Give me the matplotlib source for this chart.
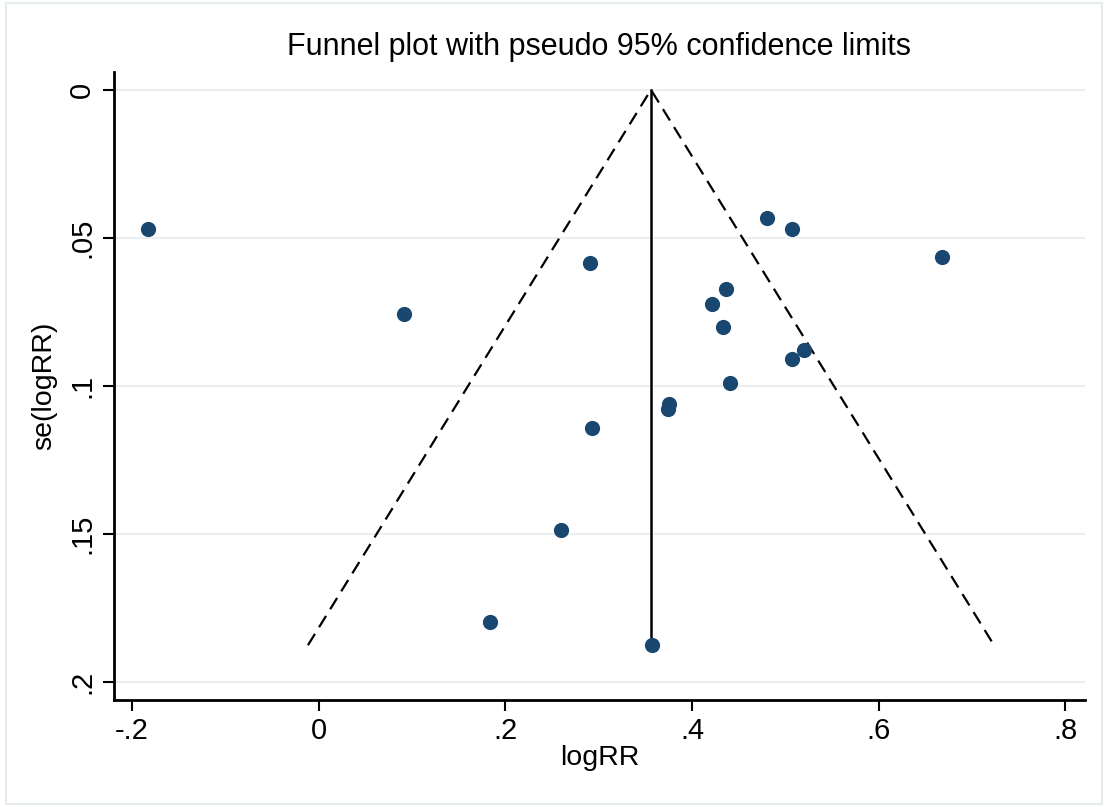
import numpy as np
import matplotlib
matplotlib.use("Agg")
import matplotlib.pyplot as plt
from matplotlib.patches import Rectangle

# study estimates
logrr = [-0.183, 0.091, 0.291, 0.293, 0.260, 0.183, 0.357, 0.375, 0.374,
         0.421, 0.436, 0.433, 0.441, 0.480, 0.507, 0.507, 0.520, 0.668]
se = [0.0469, 0.0757, 0.0586, 0.1143, 0.1485, 0.1798, 0.1875, 0.1062, 0.1079,
      0.0722, 0.0673, 0.0800, 0.0990, 0.0432, 0.0470, 0.0909, 0.0880, 0.0565]
pooled = 0.356

xticks = [-0.2, 0, 0.2, 0.4, 0.6, 0.8]
xtick_labels = ["-.2", "0", ".2", ".4", ".6", ".8"]
yticks = [0, 0.05, 0.1, 0.15, 0.2]
ytick_labels = ["0", ".05", ".1", ".15", ".2"]

plt.rcParams['font.family'] = ['Liberation Sans', 'DejaVu Sans']

fig = plt.figure(figsize=(11.08, 8.07), dpi=100)
fig.patches.append(Rectangle((0.005, 0.004), 0.99, 0.992, transform=fig.transFigure,
                             fill=False, edgecolor='#e6ecee', linewidth=1.5))
ax = fig.add_axes([114 / 1108, 1 - 700 / 807, (1085 - 114) / 1108, (700 - 72) / 807])

max_se = max(se)
ax.plot([pooled - 1.96 * max_se, pooled, pooled + 1.96 * max_se], [max_se, 0, max_se],
        color='black', linestyle=(0, (6, 3.5)), linewidth=1.6, zorder=2)
ax.plot([pooled, pooled], [0, max_se], color='black', linewidth=1.8, zorder=2)
ax.scatter(logrr, se, s=120, color='#1a476f', zorder=3, linewidths=0)

ax.set_xlim(-0.2193, 0.821)
ax.set_ylim(0.206, -0.006)
ax.set_xticks(xticks)
ax.set_xticklabels(xtick_labels)
ax.set_yticks(yticks)
ax.set_yticklabels(ytick_labels, rotation=90, va='center')
ax.tick_params(axis='both', labelsize=21, length=8, width=1.5, color='black')
ax.tick_params(axis='x', pad=4)
ax.tick_params(axis='y', pad=5)

for y in yticks:
    ax.axhline(y, color='#eaf0f2', linewidth=1.5, zorder=0)

for side in ['top', 'right']:
    ax.spines[side].set_visible(False)
for side in ['left', 'bottom']:
    ax.spines[side].set_linewidth(2)

ax.set_xlabel("logRR", fontsize=20.5, labelpad=0)
ax.set_ylabel("se(logRR)", fontsize=20.5, labelpad=8)
fig.text(0.541, 0.942, "Funnel plot with pseudo 95% confidence limits",
         fontsize=22, ha='center', va='center')

fig.savefig("out.png", dpi=100)
